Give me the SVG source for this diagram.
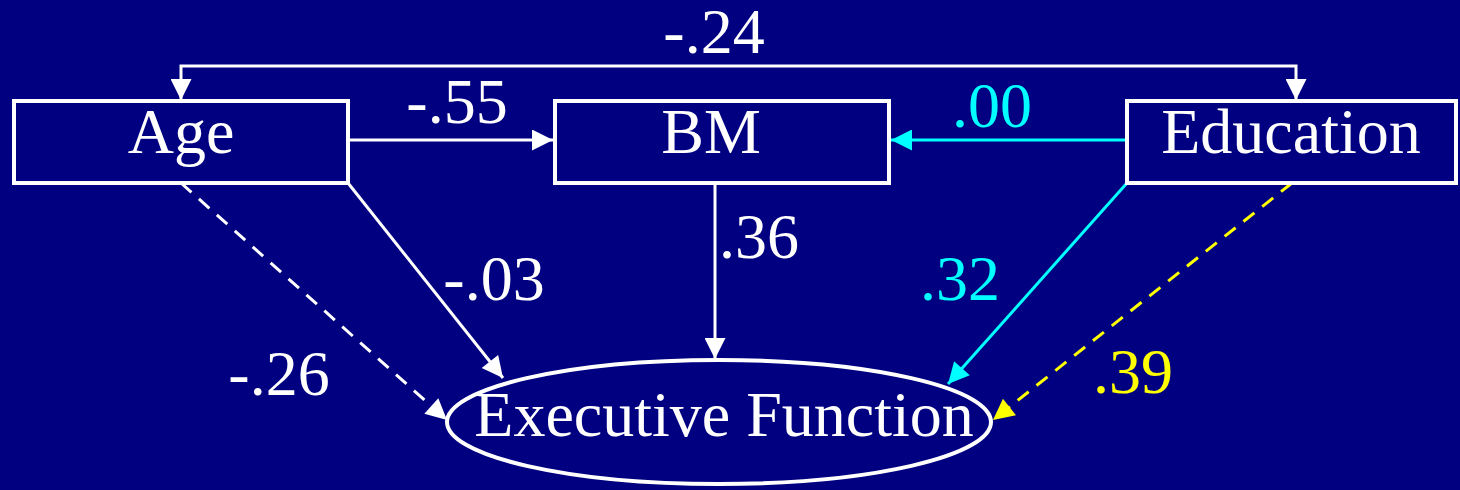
<svg xmlns="http://www.w3.org/2000/svg" width="1460" height="490" viewBox="0 0 1460 490">
<defs>
<style>
.box{fill:#000080;stroke:#fff;stroke-width:4}
.t{font-family:"Liberation Serif","Times New Roman",serif;font-size:64px;fill:#fff;text-anchor:middle}
.w{stroke:#fff;stroke-width:3;fill:none}
.c{stroke:#00ffff;stroke-width:3;fill:none}
.y{stroke:#ffff00;stroke-width:3;fill:none}
.d{stroke-dasharray:14,10}
</style>
<marker id="aw" viewBox="0 0 10 10" refX="10" refY="5" markerWidth="8" markerHeight="7" markerUnits="strokeWidth" orient="auto-start-reverse"><path d="M0,0 L10,5 L0,10 z" fill="#fff"/></marker>
<marker id="ac" viewBox="0 0 10 10" refX="10" refY="5" markerWidth="8" markerHeight="7" markerUnits="strokeWidth" orient="auto"><path d="M0,0 L10,5 L0,10 z" fill="#00ffff"/></marker>
<marker id="ay" viewBox="0 0 10 10" refX="10" refY="5" markerWidth="8" markerHeight="7" markerUnits="strokeWidth" orient="auto"><path d="M0,0 L10,5 L0,10 z" fill="#ffff00"/></marker>
</defs>
<rect width="1460" height="490" fill="#000080"/>
<g id="connectors">
<path class="w" d="M181,100 V66 H1296 V100" marker-start="url(#aw)" marker-end="url(#aw)"/>
<path class="w" d="M348,140 H553" marker-end="url(#aw)"/>
<path class="c" d="M1127,140 H891" marker-end="url(#ac)"/>
<path class="w" d="M715,183 V359" marker-end="url(#aw)"/>
<path class="w" d="M348,183 L503,378" marker-end="url(#aw)"/>
<path class="w d" d="M181,183 L447,420" marker-end="url(#aw)"/>
<path class="c" d="M1127,183 L948,384" marker-end="url(#ac)"/>
<path class="y d" d="M1292,183 L993,420" marker-end="url(#ay)"/>
<text class="t" x="714" y="53">-.24</text>
<text class="t" x="457" y="123">-.55</text>
<text class="t" x="992" y="127" style="fill:#00ffff">.00</text>
<text class="t" x="759" y="258">.36</text>
<text class="t" x="494" y="300">-.03</text>
<text class="t" x="279" y="395">-.26</text>
<text class="t" x="960" y="300" style="fill:#00ffff">.32</text>
<text class="t" x="1133" y="393" style="fill:#ffff00">.39</text>
</g>
<g id="age"><rect class="box" x="14" y="101" width="334" height="82"/><text class="t" x="181" y="153">Age</text></g>
<g id="bm"><rect class="box" x="555" y="101" width="334" height="82"/><text class="t" x="711" y="153">BM</text></g>
<g id="education"><rect class="box" x="1127" y="101" width="329" height="82"/><text class="t" x="1291" y="153">Education</text></g>
<g id="ef"><ellipse class="box" cx="719" cy="422" rx="272" ry="62"/><text class="t" x="724" y="436">Executive Function</text></g>
</svg>
